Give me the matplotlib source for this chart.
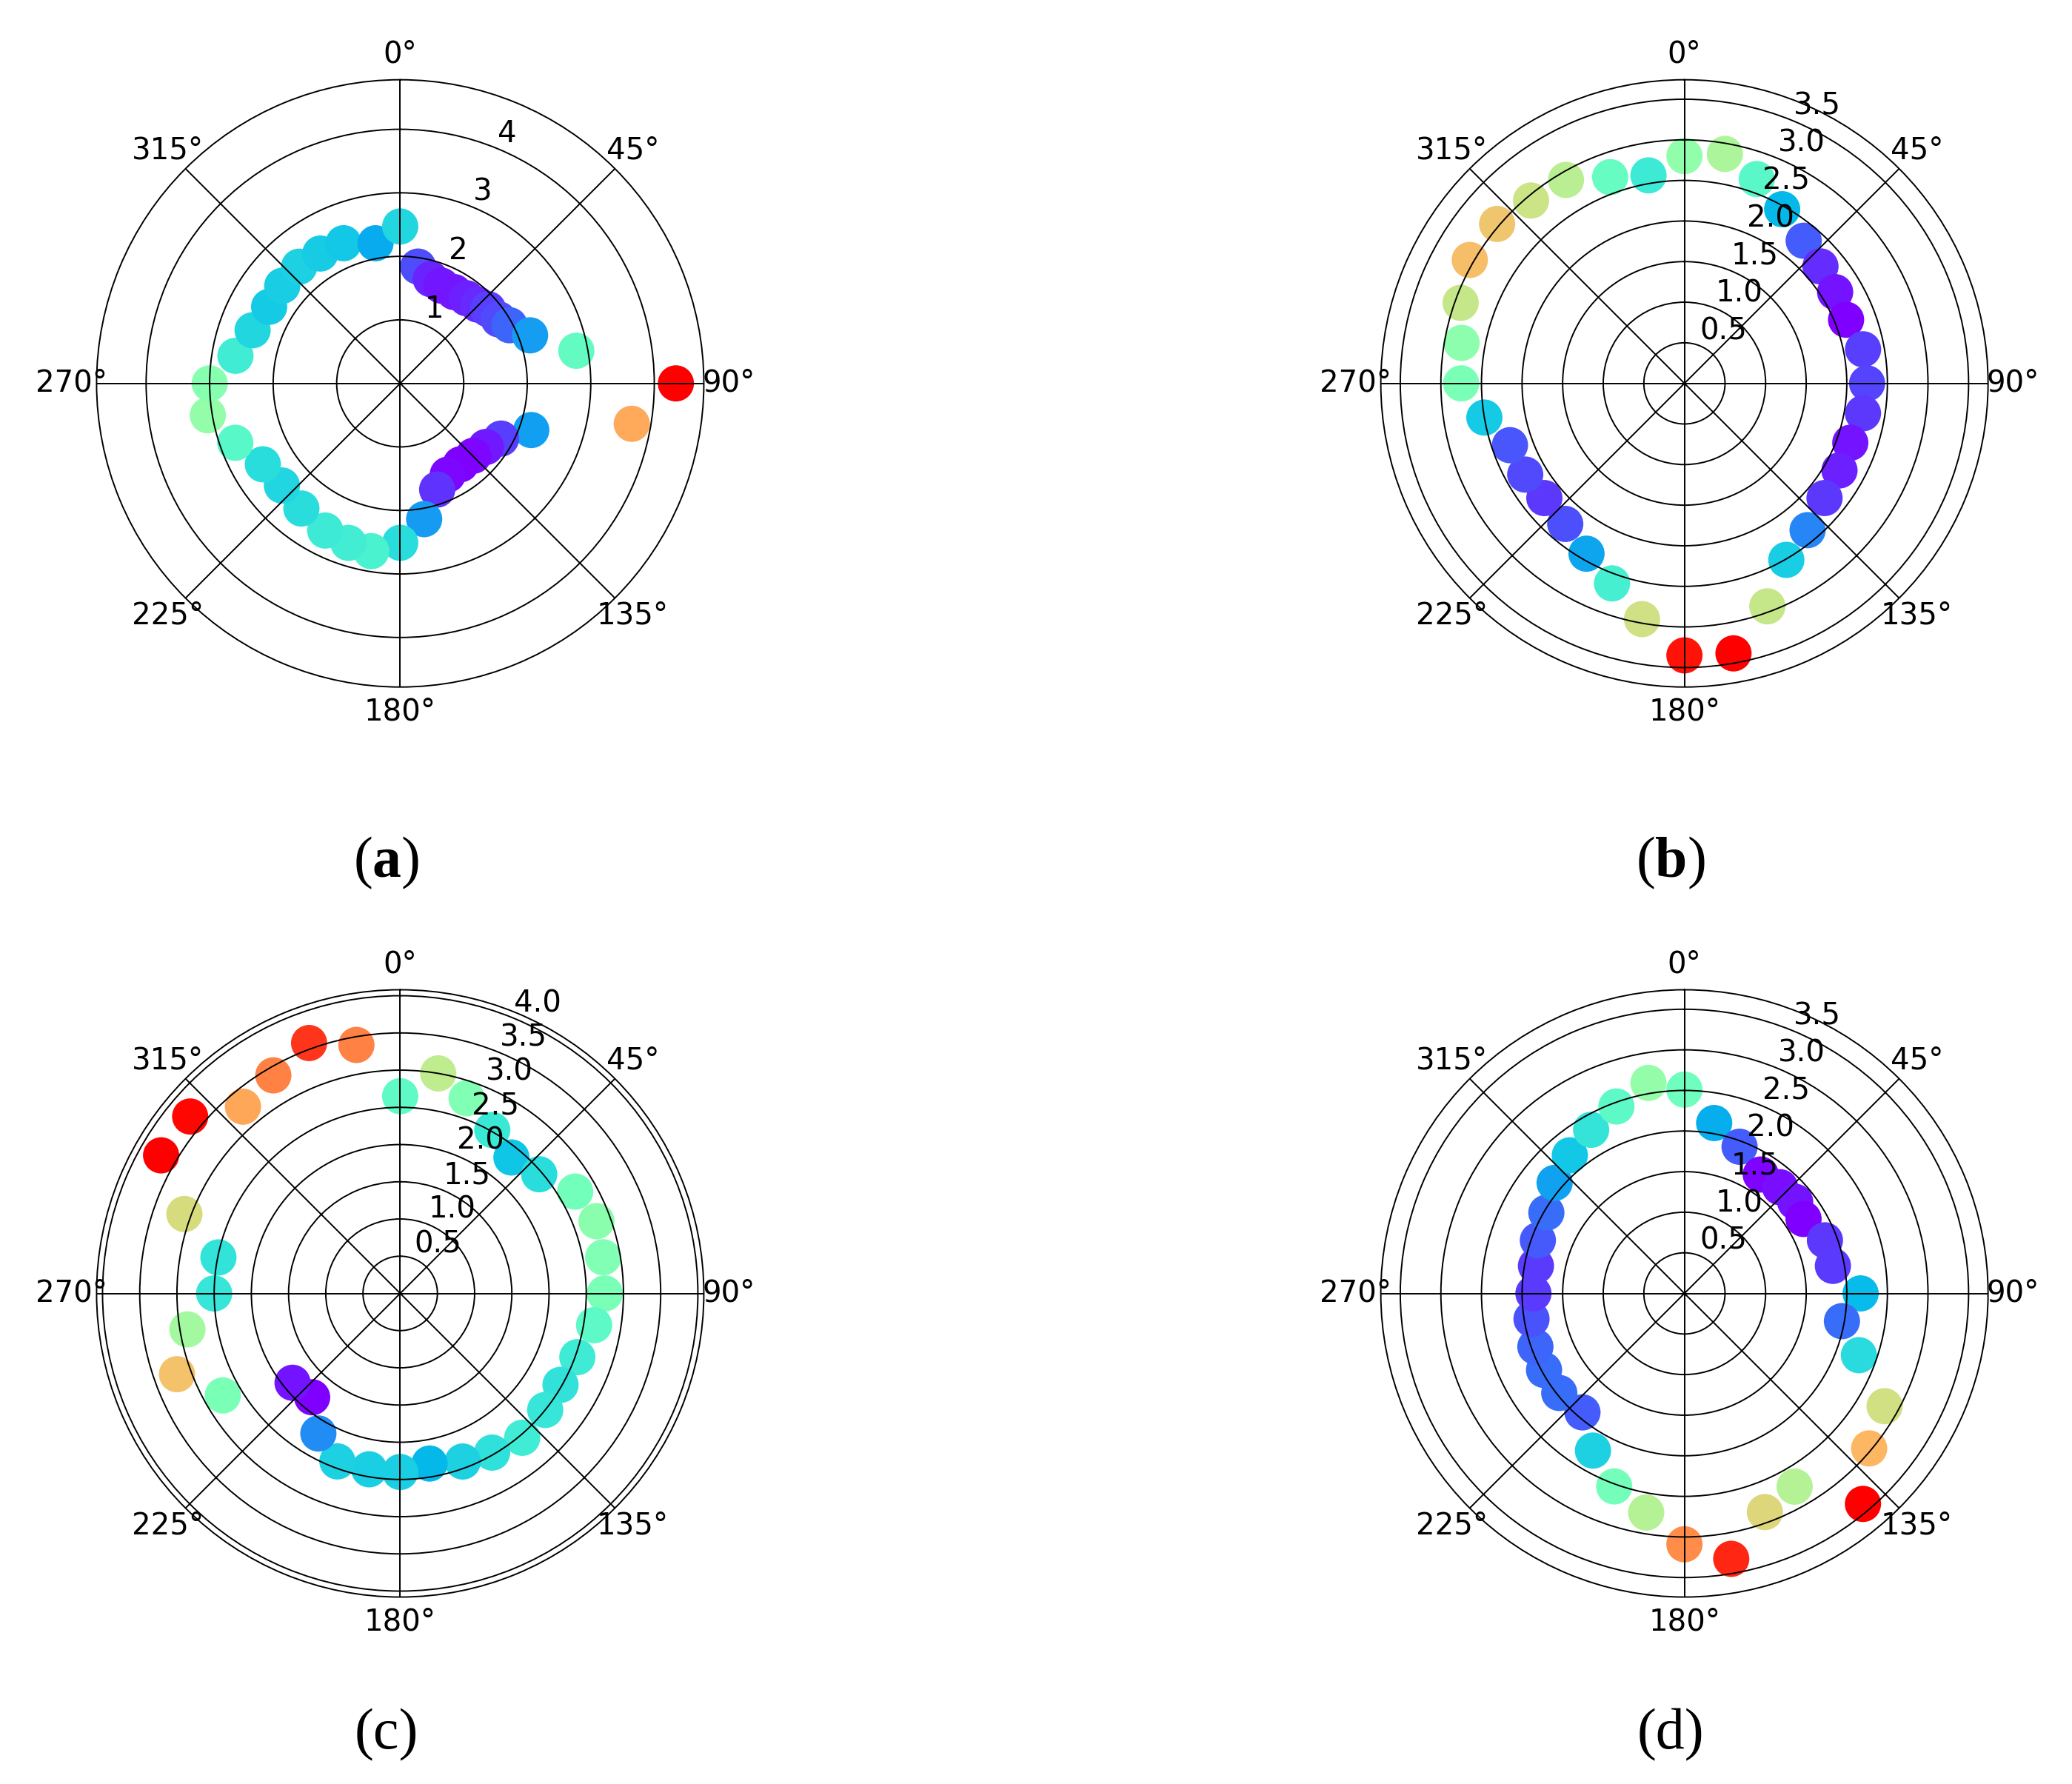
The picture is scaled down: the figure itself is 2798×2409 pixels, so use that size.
import matplotlib
matplotlib.use('Agg')
import matplotlib.pyplot as plt
import numpy as np

plt.rcParams['mathtext.fontset'] = 'custom'
plt.rcParams['mathtext.rm'] = 'Liberation Serif'
plt.rcParams['mathtext.bf'] = 'Liberation Serif:bold'

# panel (a): angle in degrees (clockwise from north), radius
theta_a = [8.7, 16.4, 22.9, 30.6, 38, 44.5, 49.8, 57, 62, 69.7, 79.5, 90, 99.9,
           109.6, 118.7, 126.6, 134.7, 143.2, 152.5, 160.8, 170, 180, 189.8, 198,
           207, 218.3, 229.2, 239.5, 250.2, 260.6, 270, 279.5, 289.8, 300.3, 309.6,
           319.1, 328.4, 338, 350, 0]
r_a = [1.86, 1.71, 1.67, 1.67, 1.70, 1.74, 1.81, 1.85, 1.95, 2.18, 2.82, 4.34, 3.70,
       2.19, 1.81, 1.68, 1.62, 1.59, 1.62, 1.77, 2.17, 2.51, 2.68, 2.64,
       2.60, 2.51, 2.46, 2.51, 2.76, 3.07, 3.00, 2.63, 2.47, 2.39, 2.41,
       2.43, 2.40, 2.38, 2.24, 2.47]

# panel (b)
theta_b = [0, 10, 19.5, 29.3, 39.9, 49.3, 58.8, 68.5, 79.2, 90, 99.5, 109.7, 119.3,
           129.3, 140, 150, 159.6, 169.7, 180, 190.2, 199.9, 209.9, 220.3, 230.7,
           240.2, 250.5, 260.3, 270, 280.3, 289.8, 299.9, 310.4, 320, 329.8, 340.2, 350.2]
r_b = [2.80, 2.87, 2.67, 2.46, 2.29, 2.21, 2.17, 2.14, 2.24, 2.25, 2.23, 2.17, 2.19,
       2.23, 2.36, 2.51, 2.93, 3.38, 3.35, 2.95, 2.62, 2.42, 2.27, 2.23,
       2.26, 2.28, 2.50, 2.75, 2.79, 2.93, 3.05, 3.03, 2.94, 2.90, 2.70, 2.60]

# panel (c)
theta_c = [0, 9.8, 18.8, 29.4, 39.3, 49.4, 59.8, 69.8, 79.9, 90, 99.3, 109.8, 119.7,
           128.8, 139.8, 150, 159.6, 170.2, 180, 190, 200.5, 210.3, 220.3, 230.3,
           240.1, 250.1, 260.4, 270, 281.2, 290.2, 300, 310.1, 319.9, 329.8, 340, 350]
r_c = [2.65, 3.00, 2.77, 2.52, 2.36, 2.46, 2.72, 2.81, 2.77, 2.75, 2.64, 2.53, 2.48,
       2.50, 2.54, 2.47, 2.41, 2.32, 2.40, 2.40, 2.41, 2.18, 1.83, 1.88,
       2.75, 3.19, 2.90, 2.50, 2.49, 3.09, 3.71, 3.69, 3.28, 3.39, 3.58, 3.39]

# panel (d)
theta_d = [0, 9.9, 20.6, 32.7, 42, 50.4, 58, 69.3, 79.5, 90, 100, 109.5, 119.4,
           130, 139.7, 150.3, 159.8, 170, 180, 189.9, 200, 210.2, 220.6, 231.5,
           241.4, 250.3, 260.5, 270, 280.5, 289.9, 300.3, 310.4, 320.3, 330.3, 340, 350.3]
r_d = [2.51, 2.13, 1.93, 1.74, 1.76, 1.77, 1.73, 1.85, 1.86, 2.17, 1.97, 2.28, 2.83,
       2.97, 3.40, 2.74, 2.87, 3.32, 3.09, 2.74, 2.53, 2.24, 1.93, 1.97,
       1.97, 1.95, 1.91, 1.86, 1.86, 1.92, 1.97, 2.10, 2.21, 2.32, 2.45, 2.63]

panels = [
    (theta_a, r_a, 4.78, [1, 2, 3, 4], r'($\mathbf{a}$)'),
    (theta_b, r_b, 3.74, [0.5, 1.0, 1.5, 2.0, 2.5, 3.0, 3.5], r'($\mathbf{b}$)'),
    (theta_c, r_c, 4.08, [0.5, 1.0, 1.5, 2.0, 2.5, 3.0, 3.5, 4.0], '(c)'),
    (theta_d, r_d, 3.74, [0.5, 1.0, 1.5, 2.0, 2.5, 3.0, 3.5], '(d)'),
]
positions = [[0.0466, 0.6149], [0.6664, 0.6149], [0.0466, 0.1048], [0.6664, 0.1048]]
captions = [(0.1866, 0.5164), (0.8064, 0.5164), (0.1866, 0.0274), (0.8064, 0.0274)]

fig = plt.figure(figsize=(27.98, 24.09), dpi=100)

for (th, r, rmax, rt, lab), pos, cap in zip(panels, positions, captions):
    ax = fig.add_axes([pos[0], pos[1], 0.2931, 0.3404], projection='polar')
    ax.set_theta_zero_location('N')
    ax.set_theta_direction(-1)
    ax.scatter(np.deg2rad(th), r, c=r, cmap='rainbow', s=1240, edgecolors='none')
    ax.set_ylim(0, rmax)
    ax.set_yticks(rt)
    if rt[0] == 1:
        ax.set_yticklabels([str(v) for v in rt])
    else:
        ax.set_yticklabels(['%.1f' % v for v in rt])
    ax.grid(True, color='black', linestyle='-', linewidth=1.4)
    ax.spines['polar'].set_linewidth(1.4)
    ax.tick_params(labelsize=29)
    ax.tick_params(axis='x', pad=14)
    fig.text(cap[0], cap[1], lab, fontsize=56, family='Liberation Serif',
             ha='center', va='center')

fig.savefig('out.png', dpi=100, facecolor='white')
